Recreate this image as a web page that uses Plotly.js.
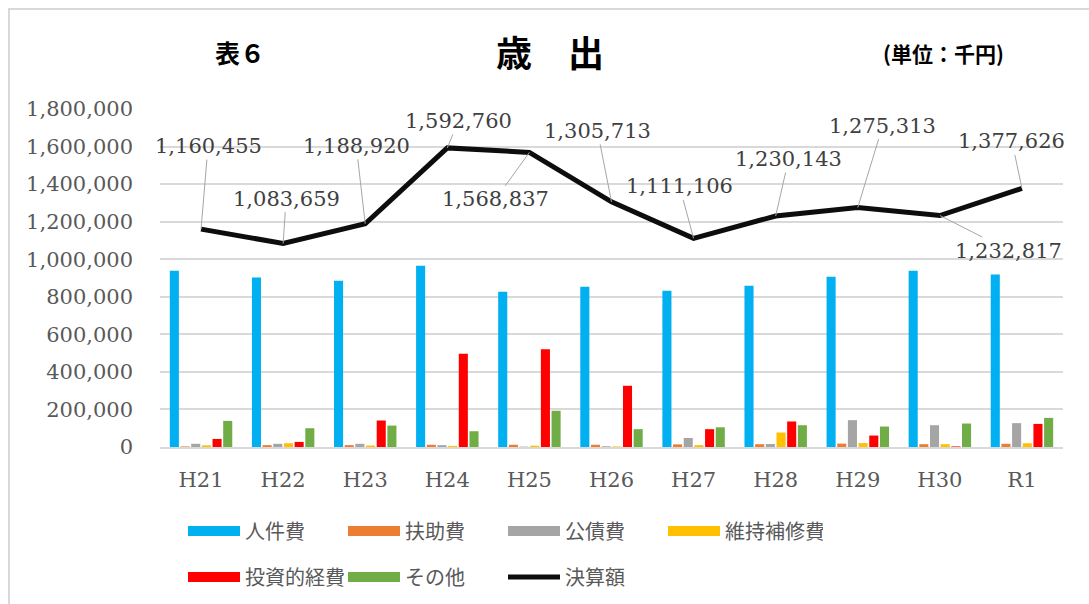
<!DOCTYPE html>
<html><head><meta charset="utf-8">
<script src="https://cdn.plot.ly/plotly-3.0.1.min.js"></script>
<style>
html,body{margin:0;padding:0;background:#fff;}
#wrap{position:relative;width:1089px;height:604px;}
#chart{position:absolute;left:0;top:0;width:1089px;height:604px;}
#frame{position:absolute;left:8px;top:8px;width:1089px;height:604px;border-left:2px solid #d9d9d9;border-top:2px solid #d9d9d9;pointer-events:none;}
</style></head>
<body><div id="wrap"><div id="chart"></div><div id="frame"></div></div>
<script>
const categories = ['H21','H22','H23','H24','H25','H26','H27','H28','H29','H30','R1'];
const personnel  = [939000, 902000, 886000, 965000, 827000, 854000, 832000, 859000, 907000, 939000, 918000];
const assistance = [3000, 10000, 10000, 12000, 12000, 12000, 14000, 15000, 18000, 15000, 17000];
const debt       = [17000, 17000, 17000, 10000, 2000, 4000, 48000, 16000, 143000, 116000, 127000];
const maintenance= [9000, 20000, 8000, 6000, 7000, 3000, 10000, 77000, 21000, 15000, 20000];
const investment = [43000, 27000, 141000, 497000, 520000, 326000, 95000, 136000, 61000, 3000, 123000];
const other      = [139000, 100000, 114000, 84000, 193000, 95000, 105000, 116000, 109000, 125000, 155000];
const total      = [1160455, 1083659, 1188920, 1592760, 1568837, 1305713, 1111106, 1230143, 1275313, 1232817, 1377626];
const yTicks     = [0,200000,400000,600000,800000,1000000,1200000,1400000,1600000,1800000];

const seriesNames = ['人件費','扶助費','公債費','維持補修費','投資的経費','その他'];
const seriesData  = [personnel, assistance, debt, maintenance, investment, other];
const colors = ['#00B0F0','#ED7D31','#A5A5A5','#FFC000','#FF0000','#70AD47'];

// label offsets (pixels) from each point on the total line
const labelDx = [7, 3, -9, 11, -34, -14, -14, 13, 25, 69, -10];
const labelDy = [-83, -45, -78, -27, 47, -71, -52, -57, -82, 35, -47];

const traces = [];
seriesData.forEach((d,i)=>{
  traces.push({type:'bar', x:categories, y:d, name:seriesNames[i], marker:{color:colors[i]}, showlegend:false, hoverinfo:'x+y+name'});
});
seriesNames.forEach((n,i)=>{
  traces.push({type:'scatter', mode:'lines', x:[null], y:[null], name:n, line:{color:colors[i], width:12},
    legend: i<4 ? 'legend' : 'legend2', showlegend:true, hoverinfo:'skip'});
});
traces.push({type:'scatter', mode:'lines', x:categories, y:total, name:'決算額', line:{color:'#0d0d0d', width:5}, legend:'legend2'});

const numFont = {family:'DejaVu Serif', size:21, color:'#595959'};
const jpFont = 'Noto Sans CJK JP';

const annotations = total.map((v,i)=>({
  x:categories[i], y:v, xref:'x', yref:'y', text:v.toLocaleString('en-US'),
  showarrow:true, arrowhead:0, arrowwidth:1, arrowcolor:'#a6a6a6', ax:labelDx[i], ay:labelDy[i],
  font:{family:'DejaVu Serif', size:21, color:'#404040'}, standoff:0
}));
const L=160, T=109, W=903, H=338.5;
const px=(x)=> (x-L)/W, py=(y)=> (T+H-y)/H;
const titleAnn = (x,y,text,size)=>({xref:'paper', yref:'paper', x:px(x), y:py(y), xanchor:'center', yanchor:'middle', text:text, showarrow:false, font:{family:jpFont, size:size, color:'#000'}});
annotations.push(titleAnn(240,52,'<b>表６</b>',25));
annotations.push(titleAnn(550,51,'<b>歳　出</b>',36));
annotations.push(titleAnn(943,53,'<b>(単位：千円)</b>',21));

const legendBase = {orientation:'h', xref:'container', yref:'container', xanchor:'left', yanchor:'middle', entrywidth:93, itemwidth:52, font:{family:jpFont, size:20, color:'#595959'}, bgcolor:'rgba(0,0,0,0)'};
const layout = {
  width:1089, height:604,
  margin:{l:L, r:1089-L-W, t:T, b:604-T-H},
  paper_bgcolor:'#fff', plot_bgcolor:'#fff',
  barmode:'group', bargap:0.22, bargroupgap:0.15,
  xaxis:{type:'category', range:[-0.5, categories.length-0.5], automargin:false, showgrid:false, showline:true, linecolor:'#d9d9d9', linewidth:2, ticks:'', tickfont:{family:'DejaVu Serif', size:21, color:'#595959'}, ticklabelstandoff:13},
  yaxis:{range:[0,1800000], automargin:false, tickvals:yTicks, tickformat:',d', showgrid:true, gridcolor:'#d9d9d9', gridwidth:2, zeroline:false, showline:false, ticks:'', tickfont:numFont, ticklabelstandoff:26},
  legend:Object.assign({x:183/1089, y:1-531/604}, legendBase),
  legend2:Object.assign({x:183/1089, y:1-577/604}, legendBase),
  annotations:annotations,
  showlegend:true
};
Plotly.newPlot('chart', traces, layout, {displayModeBar:false, staticPlot:true});
</script></body></html>
